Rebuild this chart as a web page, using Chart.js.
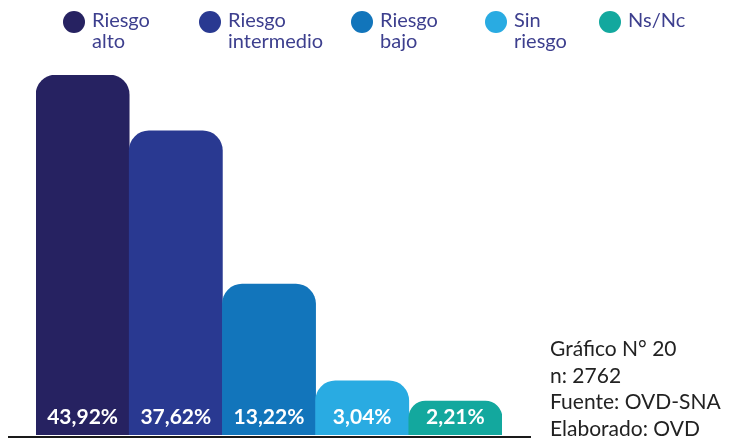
<!DOCTYPE html>
<html>
<head>
<meta charset="utf-8">
<script src="https://cdn.jsdelivr.net/npm/chart.js@4/dist/chart.umd.min.js"></script>
<style>
  html, body { margin: 0; padding: 0; background: #fff; }
  #wrap { position: relative; width: 741px; height: 441px; font-family: Lato, "Noto Sans", sans-serif; }
  #myChart { position: absolute; left: 0; top: 0; }
  #legend { position: absolute; left: 0; top: 0; width: 741px; height: 60px; }
  .item { position: absolute; top: 0; color: #3d3f8e; font-size: 20px; line-height: 20.5px; }
  .dot { position: absolute; top: 11px; left: 0; width: 22px; height: 22px; border-radius: 50%; }
  .txt { position: absolute; left: 29px; top: 9px; white-space: nowrap; }
  #note { position: absolute; left: 550px; top: 335px; font-size: 21px; line-height: 26.5px; color: #222; }
</style>
</head>
<body>
<div id="wrap">
  <canvas id="myChart" width="741" height="441"></canvas>
  <div id="legend"></div>
  <div id="note">Gráfico N° 20<br>n: 2762<br>Fuente: OVD-SNA<br>Elaborado: OVD</div>
</div>
<script>
// categories, as shown in the legend (two lines each)
var categories = [["Riesgo", "alto"], ["Riesgo", "intermedio"], ["Riesgo", "bajo"], ["Sin", "riesgo"], ["Ns/Nc"]];
// percentages printed on the bars
var shares = [43.92, 37.62, 13.22, 3.04, 2.21];
// bar heights as drawn in the picture (not proportional to the shares), in units of the first bar
var barHeights = [43.92, 37.1, 18.4, 6.6, 4.15];
var colors = ["#262261", "#293991", "#1275bb", "#29abe2", "#13a89e"];
var legendX = [63, 199, 351, 485, 599];

// html legend
var legend = document.getElementById("legend");
categories.forEach(function (lines, i) {
    var item = document.createElement("div");
    item.className = "item";
    item.style.left = legendX[i] + "px";
    var dot = document.createElement("div");
    dot.className = "dot";
    dot.style.background = colors[i];
    var txt = document.createElement("div");
    txt.className = "txt";
    txt.innerHTML = lines.join("<br>");
    item.appendChild(dot);
    item.appendChild(txt);
    legend.appendChild(item);
});

function formatShare(v) {
    return v.toFixed(2).replace(".", ",") + "%";
}

// draws the base line and the labels inside the bars
var barLabels = {
    id: "barLabels",
    afterDatasetsDraw: function (chart) {
        var ctx = chart.ctx;
        var area = chart.chartArea;
        ctx.save();
        ctx.strokeStyle = "#1a1a1a";
        ctx.lineWidth = 2;
        ctx.beginPath();
        ctx.moveTo(area.left - 28, area.bottom + 2);
        ctx.lineTo(area.right + 29, area.bottom + 2);
        ctx.stroke();

        ctx.fillStyle = "#ffffff";
        ctx.font = "bold 21px Lato, 'Noto Sans', sans-serif";
        ctx.textAlign = "center";
        ctx.textBaseline = "alphabetic";
        chart.getDatasetMeta(0).data.forEach(function (bar, i) {
            ctx.fillText(formatShare(shares[i]), bar.x, area.bottom - 11);
        });
        ctx.restore();
    }
};

var ctx = document.getElementById("myChart").getContext("2d");
var myChart = new Chart(ctx, {
    type: "bar",
    data: {
        labels: categories.map(function (c) { return c.join(" "); }),
        datasets: [{
            data: barHeights,
            backgroundColor: colors,
            borderWidth: 0,
            borderRadius: { topLeft: 20, topRight: 20, bottomLeft: 0, bottomRight: 0 },
            borderSkipped: false,
            categoryPercentage: 1.0,
            barPercentage: 1.0
        }]
    },
    options: {
        responsive: false,
        animation: false,
        layout: { padding: { left: 36, right: 239, top: 75, bottom: 6 } },
        plugins: {
            legend: { display: false },
            tooltip: { enabled: false }
        },
        scales: {
            x: { display: false },
            y: { display: false, min: 0, max: 43.92 }
        }
    },
    plugins: [barLabels]
});
</script>
</body>
</html>
